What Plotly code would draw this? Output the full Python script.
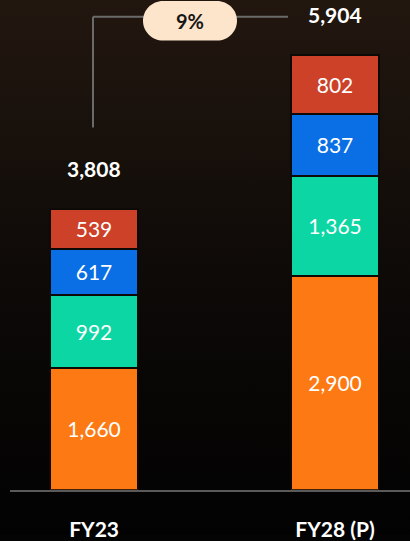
import plotly.graph_objects as go

categories = ["FY23", "FY28 (P)"]
seg1 = [1660, 2900]   # orange (bottom)
seg2 = [992, 1365]    # teal
seg3 = [617, 837]     # blue
seg4 = [539, 802]     # red (top)
totals = [3808, 5904]
cagr_label = "9%"

W, H = 410, 541
colors = ["#fd7913", "#0cd6a3", "#0a6fe4", "#cc4127"]
gap_color = "#0c0907"

fig = go.Figure()

# background gradient (decorative) on hidden full-paper axes
fig.add_trace(go.Scatter(
    x=[0, 1, 1, 0, 0], y=[0, 0, 1, 1, 0], mode="lines", fill="toself",
    line=dict(width=0), hoverinfo="skip", showlegend=False,
    fillgradient=dict(type="vertical",
                      colorscale=[[0, "#020202"], [0.45, "#0c0907"], [1, "#22170f"]]),
    xaxis="x", yaxis="y",
))

for vals, col in zip([seg1, seg2, seg3, seg4], colors):
    fig.add_trace(go.Bar(
        x=categories, y=vals, xaxis="x2", yaxis="y2",
        marker=dict(color=col, line=dict(color=gap_color, width=2)),
        width=0.366,
        texttemplate="%{y:,}", textposition="inside", insidetextanchor="middle",
        textangle=0,
        textfont=dict(family="Lato", size=21, color="white"),
        showlegend=False, hoverinfo="skip",
    ))

annotations = []
for c, t in zip(categories, totals):
    annotations.append(dict(
        x=c, y=t, xref="x2", yref="y2", text=f"{t:,}", showarrow=False,
        yanchor="middle", yshift=40,
        font=dict(family="Lato", size=21, color="white", weight="bold"),
    ))

def P(x, y):
    return f"{x / W:.5f},{1 - y / H:.5f}"

# CAGR connector
line_style = dict(color="#6a6a6a", width=2)
shapes = [
    dict(type="line", xref="paper", yref="paper",
         x0=93 / W, x1=93 / W, y0=1 - 129 / H, y1=1 - 17 / H, line=line_style),
    dict(type="line", xref="paper", yref="paper",
         x0=93 / W, x1=288 / W, y0=1 - 17 / H, y1=1 - 17 / H, line=line_style),
]
left, right, top, bottom, r = 143, 237, 1, 41, 20
k = 0.5523 * r
path = (f"M{P(left + r, top)} L{P(right - r, top)} "
        f"C{P(right - r + k, top)} {P(right, top + r - k)} {P(right, top + r)} "
        f"C{P(right, top + r + k)} {P(right - r + k, bottom)} {P(right - r, bottom)} "
        f"L{P(left + r, bottom)} "
        f"C{P(left + r - k, bottom)} {P(left, bottom - r + k)} {P(left, bottom - r)} "
        f"C{P(left, top + r - k)} {P(left + r - k, top)} {P(left + r, top)} Z")
shapes.append(dict(type="path", xref="paper", yref="paper", path=path,
                   fillcolor="#fde5cb", line=dict(width=0)))
annotations.append(dict(
    x=(left + right) / 2 / W, y=1 - (top + bottom) / 2 / H, xref="paper", yref="paper",
    text=cagr_label, showarrow=False, xanchor="center", yanchor="middle",
    font=dict(family="Lato", size=20, color="#151515", weight="bold"),
))

fig.update_layout(
    width=W, height=H, margin=dict(l=0, r=0, t=0, b=0),
    paper_bgcolor="#050404", plot_bgcolor="rgba(0,0,0,0)",
    barmode="stack", bargap=0,
    xaxis=dict(domain=[0, 1], range=[0, 1], visible=False, fixedrange=True),
    yaxis=dict(domain=[0, 1], range=[0, 1], visible=False, fixedrange=True),
    xaxis2=dict(domain=[10 / W, 1], range=[-0.349, 1.311], anchor="y2",
                showline=True, linecolor="#5a5a5a", linewidth=2,
                showgrid=False, zeroline=False, ticks="",
                ticklabelstandoff=20,
                tickfont=dict(family="Lato", size=21, color="white", weight="bold")),
    yaxis2=dict(domain=[(H - 495) / H, (H - 45) / H], range=[0, 6040], anchor="x2",
                visible=False, showgrid=False, zeroline=False),
    shapes=shapes, annotations=annotations,
    font=dict(family="Lato"),
)

fig.write_html(
    "out.html",
    config={"displayModeBar": False},
    post_script="document.body.style.margin='0';document.body.style.overflow='hidden';"
                "document.body.style.background='#050404';",
)
